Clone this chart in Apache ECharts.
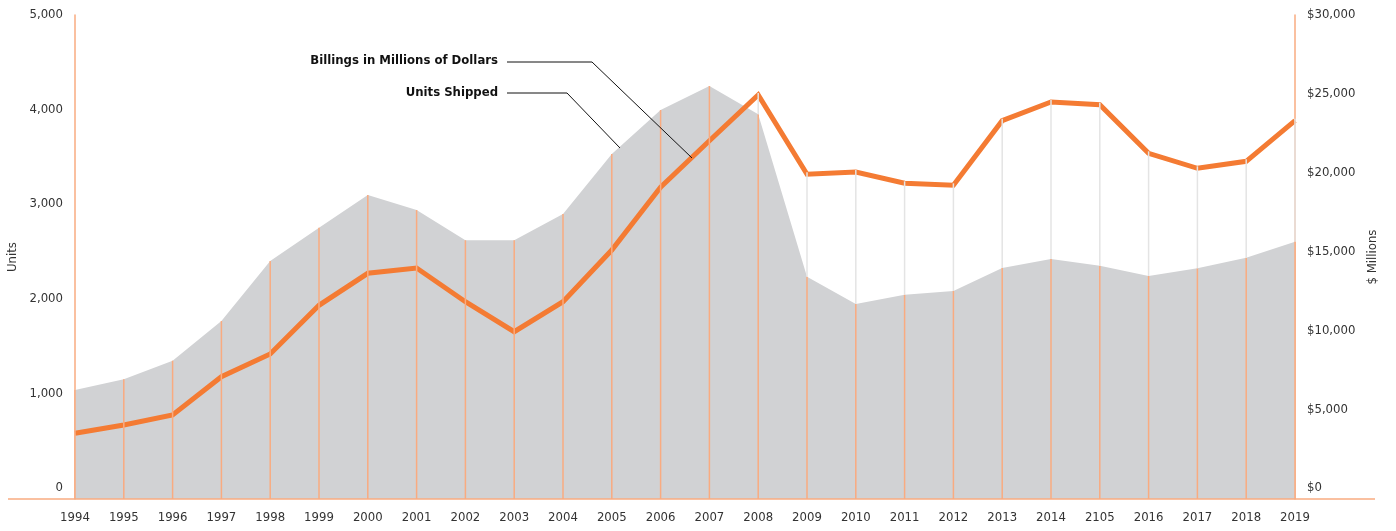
<!DOCTYPE html>
<html>
<head>
<meta charset="utf-8">
<script src="https://cdn.jsdelivr.net/npm/echarts@6/dist/echarts.min.js"></script>
<style>
  html, body { margin: 0; padding: 0; background: #fff; }
  #main { width: 1396px; height: 531px; }
</style>
</head>
<body>
<div id="main"></div>
<script>
// 数据
var years = ['1994', '1995', '1996', '1997', '1998', '1999', '2000', '2001', '2002', '2003',
    '2004', '2005', '2006', '2007', '2008', '2009', '2010', '2011', '2012', '2013',
    '2014', '2105', '2016', '2017', '2018', '2019'];
var unitsShipped = [1126, 1237, 1429, 1839, 2459, 2803, 3140, 2986, 2673, 2673,
    2944, 3564, 4019, 4267, 3974, 2296, 2014, 2111, 2149, 2386,
    2479, 2410, 2304, 2383, 2493, 2658];
var billings = [4072, 4587, 5207, 7581, 8988, 12006, 13990, 14318, 12230, 10370,
    12230, 15434, 19320, 22209, 25041, 20126, 20269, 19568, 19444, 23450,
    24607, 24440, 21428, 20498, 20932, 23450];
var unitTicks = { min: 0, max: 5000, interval: 1000 };
var billTicks = { min: 0, max: 30000, interval: 5000 };

var FONT = "'Liberation Sans Narrow', 'DejaVu Sans Condensed', 'Liberation Sans', sans-serif";
var ORANGE = '#f47b33';
var ORANGE_LIGHT = '#f9ab80';
var AREA_GRAY = '#d1d2d4';
var RATIO = billTicks.max / unitTicks.max;

var myChart = echarts.init(document.getElementById('main'));

// 竖线数据: [序号, 台数, 金额]
var stemData = [];
for (var i = 0; i < years.length; i++) {
    stemData.push([i, unitsShipped[i], billings[i]]);
}

function fmt(v) {
    return String(v).replace(/\B(?=(\d{3})+(?!\d))/g, ',');
}

// 刻度标签越往下越往上挪一点(原图标签并不对齐刻度)
function makeRich(n) {
    var rich = {};
    for (var k = 0; k <= n; k++) {
        rich['p' + k] = {
            color: '#333',
            fontFamily: FONT,
            fontSize: 13,
            padding: [0, 0, Math.round(22 * (1 - k / n)), 0]
        };
    }
    return rich;
}

var option = {
    animation: false,
    grid: { left: 75, right: 101, top: 15, bottom: 32, containLabel: false, outerBoundsMode: 'none' },
    xAxis: {
        type: 'category',
        data: years,
        boundaryGap: false,
        axisLine: { show: false },
        axisTick: { show: false },
        axisLabel: {
            interval: 0,
            margin: 12,
            color: '#333',
            fontFamily: FONT,
            fontSize: 13
        }
    },
    yAxis: [
        {
            type: 'value',
            min: unitTicks.min,
            max: unitTicks.max,
            interval: unitTicks.interval,
            name: 'Units',
            nameLocation: 'middle',
            nameRotate: 90,
            nameGap: 53,
            nameTextStyle: { color: '#333', fontFamily: FONT, fontSize: 13 },
            splitLine: { show: false },
            axisTick: { show: false },
            axisLine: { show: true, lineStyle: { color: ORANGE_LIGHT, width: 1.5 } },
            axisLabel: {
                margin: 12,
                verticalAlign: 'middle',
                rich: makeRich(5),
                formatter: function (v) {
                    return '{p' + Math.round(v / unitTicks.interval) + '|' + fmt(v) + '}';
                }
            }
        },
        {
            type: 'value',
            min: billTicks.min,
            max: billTicks.max,
            interval: billTicks.interval,
            position: 'right',
            name: '$ Millions',
            nameLocation: 'middle',
            nameRotate: 90,
            nameGap: 68,
            nameTextStyle: { color: '#333', fontFamily: FONT, fontSize: 13 },
            splitLine: { show: false },
            axisTick: { show: false },
            axisLine: { show: true, lineStyle: { color: ORANGE_LIGHT, width: 1.5 } },
            axisLabel: {
                margin: 12,
                verticalAlign: 'middle',
                rich: makeRich(6),
                formatter: function (v) {
                    return '{p' + Math.round(v / billTicks.interval) + '|$' + fmt(v) + '}';
                }
            }
        }
    ],
    graphic: [
        {
            type: 'line',
            z: 10,
            shape: { x1: 8, y1: 499, x2: 1375, y2: 499 },
            style: { stroke: ORANGE_LIGHT, lineWidth: 1.5 }
        },
        {
            type: 'text',
            right: 1396 - 498,
            top: 54,
            style: {
                text: 'Billings in Millions of Dollars',
                font: 'bold 13px ' + FONT,
                fill: '#111',
                textAlign: 'right'
            }
        },
        {
            type: 'text',
            right: 1396 - 498,
            top: 86,
            style: {
                text: 'Units Shipped',
                font: 'bold 13px ' + FONT,
                fill: '#111',
                textAlign: 'right'
            }
        },
        {
            type: 'polyline',
            z: 20,
            shape: { points: [[507, 62], [592, 62], [692, 158]] },
            style: { stroke: '#111', lineWidth: 1, fill: null }
        },
        {
            type: 'polyline',
            z: 20,
            shape: { points: [[507, 93], [567, 93], [620, 148]] },
            style: { stroke: '#111', lineWidth: 1, fill: null }
        }
    ],
    series: [
        {
            name: 'Units Shipped',
            type: 'line',
            yAxisIndex: 0,
            data: unitsShipped,
            symbol: 'none',
            z: 1,
            lineStyle: { width: 0 },
            areaStyle: { color: AREA_GRAY, opacity: 1 }
        },
        {
            name: 'Billings in Millions of Dollars',
            type: 'line',
            yAxisIndex: 1,
            data: billings,
            symbol: 'none',
            z: 2,
            lineStyle: { color: ORANGE, width: 5, join: 'miter' }
        },
        {
            name: 'stems',
            type: 'custom',
            yAxisIndex: 0,
            z: 3,
            silent: true,
            data: stemData,
            renderItem: function (params, api) {
                var idx = api.value(0);
                var u = api.value(1);
                var b = api.value(2) / RATIO;
                var p0 = api.coord([idx, 0]);
                var pu = api.coord([idx, u]);
                var pb = api.coord([idx, b]);
                var children = [{
                    type: 'line',
                    shape: { x1: p0[0], y1: p0[1], x2: pu[0], y2: pu[1] },
                    style: { stroke: ORANGE_LIGHT, lineWidth: 1.5 }
                }];
                if (b > u) {
                    children.push({
                        type: 'line',
                        shape: { x1: pu[0], y1: pu[1], x2: pb[0], y2: pb[1] - 2 },
                        style: { stroke: '#e4e4e4', lineWidth: 1.5 }
                    });
                }
                return { type: 'group', children: children };
            }
        }
    ]
};

myChart.setOption(option);
</script>
</body>
</html>
